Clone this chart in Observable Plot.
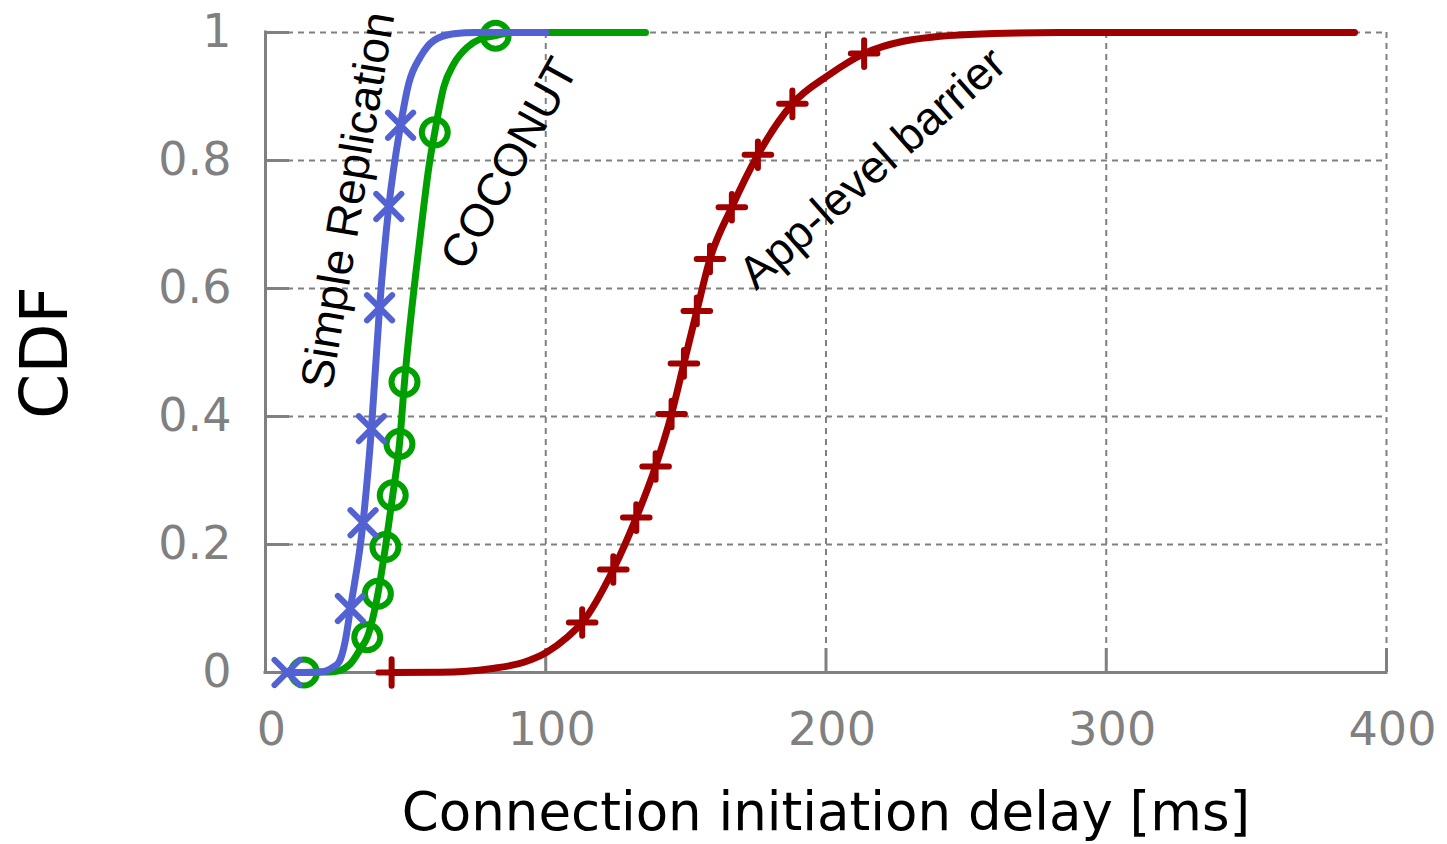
<!DOCTYPE html>
<html>
<head>
<meta charset="utf-8">
<script src="https://cdn.jsdelivr.net/npm/d3@7"></script>
<script src="https://cdn.jsdelivr.net/npm/@observablehq/plot@0.6"></script>
<style>
  html, body { margin: 0; padding: 0; background: #fff; }
  #chart svg { display: block; }
</style>
</head>
<body>
<div id="chart"></div>
<script>
// ---- data ----
const xTicks = [0, 100, 200, 300, 400];
const xTickLabels = ["0", "100", "200", "300", "400"];
const yTicks = [0, 0.2, 0.4, 0.6, 0.8, 1];
const yTickLabels = ["0", "0.2", "0.4", "0.6", "0.8", "1"];

// Simple Replication (blue)
const simpleLineX = [7.7, 15, 20, 22, 24, 26.2, 28.5, 30.3, 34.8, 37.8, 40.7, 44, 48.2, 51.1, 55.3, 60.1, 67.2, 75, 100];
const simpleLineY = [0, 0, 0.001, 0.003, 0.008, 0.016, 0.05, 0.1, 0.234, 0.381, 0.57, 0.728, 0.855, 0.92, 0.962, 0.9875, 0.998, 1, 1];
const simpleMarkX = [7.7, 30.3, 34.8, 37.8, 40.7, 44, 48.2];
const simpleMarkY = [0, 0.1, 0.234, 0.381, 0.57, 0.728, 0.855];

// COCONUT (green)
const coconutLineX = [13.7, 24.3, 28, 30.3, 33.9, 36.3, 40.1, 42.8, 45.4, 47.8, 49.6, 55.3, 58.3, 60.4, 63.6, 67.2, 72, 76.7, 82.1, 87.4, 135.6];
const coconutLineY = [0, 0.001, 0.006, 0.0136, 0.037, 0.055, 0.123, 0.196, 0.277, 0.357, 0.454, 0.685, 0.79, 0.844, 0.9145, 0.951, 0.977, 0.99, 0.995, 1, 1];
const coconutMarkX = [13.7, 36.3, 40.1, 42.8, 45.4, 47.8, 49.6, 60.4, 82.1];
const coconutMarkY = [0, 0.055, 0.123, 0.196, 0.277, 0.357, 0.454, 0.844, 0.995];

// App-level barrier (red)
const barrierLineX = [45, 62.4, 80.3, 92.2, 100.5, 107.6, 113, 124.1, 132.3, 139.2, 144.9, 149.3, 153.9, 158.6, 166.4, 175.7, 188, 200.8, 213.6, 227.2, 251.1, 283, 388.6];
const barrierLineY = [0, 0.0005, 0.006, 0.016, 0.032, 0.055, 0.078, 0.161, 0.242, 0.322, 0.404, 0.483, 0.565, 0.646, 0.727, 0.809, 0.8885, 0.933, 0.967, 0.986, 0.997, 1, 1];
const barrierMarkX = [45, 113, 124.1, 132.3, 139.2, 144.9, 149.3, 153.9, 158.6, 166.4, 175.7, 188, 213.6];
const barrierMarkY = [0, 0.078, 0.161, 0.242, 0.322, 0.404, 0.483, 0.565, 0.646, 0.727, 0.809, 0.8885, 0.967];

// in-plot annotations (centre in data units, angle in degrees)
const labelText = ["Simple Replication", "COCONUT", "App-level barrier"];
const labelX = [29.6, 87.1, 216.6];
const labelY = [0.7375, 0.795, 0.7875];
const labelAngle = [-80.5, -61, -41.5];

const xTitle = "Connection initiation delay [ms]";
const yTitle = "CDF";

// ---- build tables ----
const zip = (xs, ys) => xs.map((x, i) => ({x, y: ys[i]}));
const simpleLine = zip(simpleLineX, simpleLineY);
const simpleMarks = zip(simpleMarkX, simpleMarkY);
const coconutLine = zip(coconutLineX, coconutLineY);
const coconutMarks = zip(coconutMarkX, coconutMarkY);
const barrierLine = zip(barrierLineX, barrierLineY);
const barrierMarks = zip(barrierMarkX, barrierMarkY);
const labels = labelText.map((t, i) => ({text: t, x: labelX[i], y: labelY[i], a: labelAngle[i]}));

const BLUE = "#5262d2", GREEN = "#00a000", RED = "#a00000", GRAY = "#808080";
const LW = 7;
const MW = 6;

const chart = Plot.plot({
  width: 1447,
  height: 844,
  marginLeft: 265,
  marginRight: 61,
  marginTop: 32,
  marginBottom: 172,
  x: {domain: [0, 400]},
  y: {domain: [0, 1]},
  style: {fontFamily: "DejaVu Sans", background: "#fff", overflow: "visible"},
  marks: [
    // dashed grid
    Plot.ruleX(xTicks.slice(1), {x: d => d, stroke: GRAY, strokeWidth: 2, strokeDasharray: "6,5"}),
    Plot.ruleY(yTicks.slice(1), {y: d => d, stroke: GRAY, strokeWidth: 2, strokeDasharray: "6,5"}),
    // axis lines
    Plot.ruleY([0], {stroke: GRAY, strokeWidth: 3, strokeLinecap: "square"}),
    Plot.ruleX([0], {stroke: GRAY, strokeWidth: 3, strokeLinecap: "square"}),
    // inward ticks
    Plot.tickX(xTicks, {x: d => d, stroke: GRAY, strokeWidth: 3, insetTop: 616}),
    Plot.tickY(yTicks, {y: d => d, stroke: GRAY, strokeWidth: 3, insetRight: 1097}),
    // tick labels
    Plot.axisX({ticks: xTicks, tickFormat: d => xTickLabels[xTicks.indexOf(d)], tickSize: 0, tickPadding: 40,
      fontSize: 46, color: GRAY, dx: 6, label: null}),
    Plot.axisY({ticks: yTicks, tickFormat: d => yTickLabels[yTicks.indexOf(d)], tickSize: 0, tickPadding: 34,
      fontSize: 46, color: GRAY, label: null}),
    // axis titles
    Plot.text([xTitle], {frameAnchor: "bottom", textAnchor: "middle", lineAnchor: "middle", dy: 141, fontSize: 53, fill: "#000"}),
    Plot.text([yTitle], {frameAnchor: "left", textAnchor: "middle", lineAnchor: "middle", dx: -219, rotate: -90, fontSize: 65, fill: "#000"}),
    // App-level barrier
    Plot.line(barrierLine, {x: "x", y: "y", stroke: RED, strokeWidth: LW, curve: "monotone-x", strokeLinecap: "round"}),
    Plot.dot(barrierMarks, {x: "x", y: "y", symbol: "plus", r: 8.6, stroke: RED, strokeWidth: MW, strokeLinecap: "round"}),
    // COCONUT
    Plot.line(coconutLine, {x: "x", y: "y", stroke: GREEN, strokeWidth: LW, curve: "monotone-x", strokeLinecap: "round"}),
    Plot.dot(coconutMarks, {x: "x", y: "y", symbol: "circle", r: 13, stroke: GREEN, strokeWidth: MW, fill: "none"}),
    // Simple Replication
    Plot.line(simpleLine, {x: "x", y: "y", stroke: BLUE, strokeWidth: LW, curve: "monotone-x", strokeLinecap: "round"}),
    Plot.dot(simpleMarks, {x: "x", y: "y", symbol: "times", r: 11.5, stroke: BLUE, strokeWidth: MW, strokeLinecap: "round"}),
    // annotations
    Plot.text(labels, {x: "x", y: "y", text: "text", rotate: "a", fontSize: 46, fontFamily: "Liberation Sans", fill: "#000"})
  ]
});
document.getElementById("chart").appendChild(chart);
</script>
</body>
</html>
